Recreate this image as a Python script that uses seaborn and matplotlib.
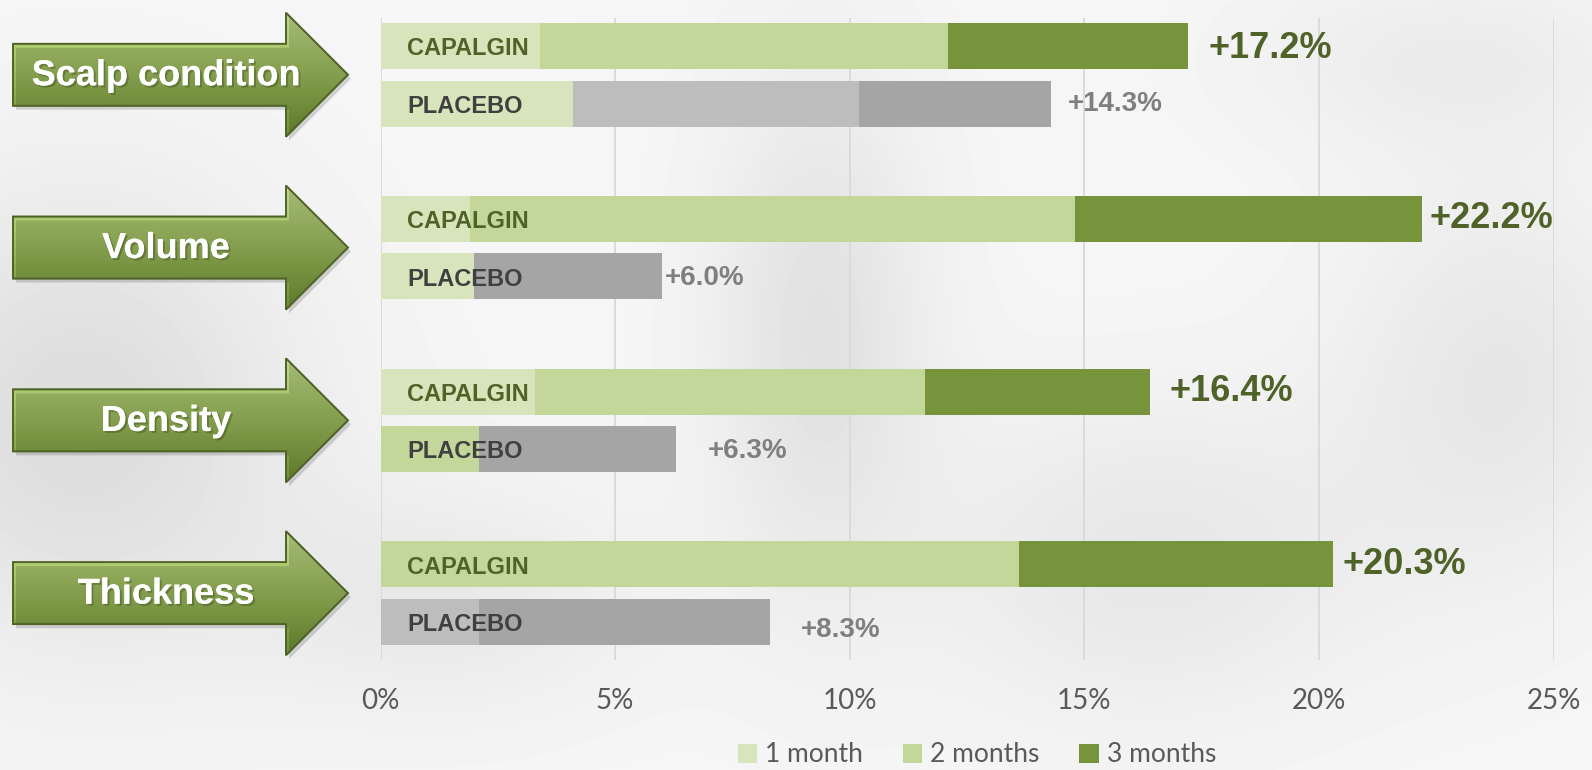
import numpy as np
import pandas as pd
import seaborn as sns
import matplotlib.pyplot as plt
import matplotlib.patheffects as pe
from matplotlib.patches import Polygon, Patch
from matplotlib.colors import LinearSegmentedColormap

# ---- data ----
groups = ['Scalp condition', 'Volume', 'Density', 'Thickness']
arms = ['CAPALGIN', 'PLACEBO']
# cumulative end of each period, one entry per bar (group x arm)
end_1m = [3.4, 4.1, 1.9, 2.0, 3.3, 2.1, 0.0, 2.1]
end_2m = [12.1, 10.2, 14.8, 2.0, 11.6, 2.1, 13.6, 2.1]
end_3m = [17.2, 14.3, 22.2, 6.0, 16.4, 6.3, 20.3, 8.3]
value_labels = ['+17.2%', '+14.3%', '+22.2%', '+6.0%', '+16.4%', '+6.3%', '+20.3%', '+8.3%']
x_ticks = [0, 5, 10, 15, 20, 25]
legend_labels = ['1 month', '2 months', '3 months']

# ---- styles ----
L1, G2, D3 = '#d8e4bc', '#c4d79b', '#77933c'
GR1, GR2 = '#bdbdbd', '#a5a5a5'
col_1m = [L1, L1, L1, L1, L1, G2, L1, GR1]
col_2m = [G2, GR1, G2, GR2, G2, G2, G2, GR1]
col_3m = [D3, GR2, D3, GR2, D3, GR2, D3, GR2]
lab_dx = [15, 12, 5, 2, 14, 23, 6.5, 22]   # points right of bar end
lab_dy = [-2, 0, 0, -1, 0, -1, 0, -6]

sns.set_style('white')
plt.rcParams['font.family'] = ['Liberation Sans', 'DejaVu Sans']

W, H = 1592, 770
fig = plt.figure(figsize=(W / 100, H / 100), dpi=100)

# background: soft faded photo look
bg = fig.add_axes([0, 0, 1, 1], zorder=-2)
yy, xx = np.mgrid[0:H, 0:W]
img = np.full((H, W), 0.965)
for cx, cy, sx, sy, d in [(80, 420, 220, 230, 0.10), (820, 330, 110, 260, 0.08),
                          (1150, 560, 220, 160, 0.06), (1500, 380, 160, 200, 0.06),
                          (450, 600, 200, 120, 0.05), (1450, 60, 200, 90, 0.04)]:
    img -= d * np.exp(-(((xx - cx) / sx) ** 2 + ((yy - cy) / sy) ** 2))
bg.imshow(img, cmap='gray', vmin=0, vmax=1, aspect='auto', extent=[0, W, H, 0])
bg.axis('off')

ax = fig.add_axes([380.5 / W, 1 - 660 / H, 1173 / W, 641.7 / H])
ax.set_facecolor('none')

n = len(end_3m)
pos = [g * 3 + a for g in range(len(groups)) for a in range(len(arms))]
keys = [f'b{i}' for i in range(n)]

for ends, cols in [(end_3m, col_3m), (end_2m, col_2m), (end_1m, col_1m)]:
    df = pd.DataFrame({'end': ends, 'pos': pos, 'bar': keys})
    sns.barplot(data=df, x='end', y='pos', hue='bar', palette=dict(zip(keys, cols)),
                orient='y', native_scale=True, dodge=False, legend=False,
                saturation=1, width=0.8, linewidth=0, errorbar=None, ax=ax)

ax.set_xlim(0, 25)
ax.set_ylim(10.66, -0.48)
ax.set_xticks(x_ticks)
ax.set_xticklabels([f'{t}%' for t in x_ticks], fontfamily='Lato', fontsize=20, color='#595959')
ax.set_yticks([])
ax.tick_params(axis='x', length=0, pad=20)
ax.grid(axis='x', color='#d9d9d9', lw=1.3)
ax.set_axisbelow(True)
ax.set_xlabel('')
ax.set_ylabel('')
sns.despine(ax=ax, left=True, bottom=True)

for i in range(n):
    cap = i % 2 == 0
    ax.annotate(arms[i % 2], xy=(0, pos[i]), xytext=(19, -2), textcoords='offset points',
                va='center', ha='left', fontsize=17, fontweight='bold',
                color='#4f6228' if cap else '#404040')
    ax.annotate(value_labels[i], xy=(end_3m[i], pos[i]), xytext=(lab_dx[i], lab_dy[i]),
                textcoords='offset points', va='center', ha='left',
                fontsize=26 if cap else 20, fontweight='bold',
                color='#4f6228' if cap else '#7f7f7f')

# arrows with group names
ov = fig.add_axes([0, 0, 1, 1], zorder=3)
ov.set_xlim(0, W)
ov.set_ylim(H, 0)
ov.axis('off')
green = LinearSegmentedColormap.from_list('g', ['#c2db8e', '#a9c76b', '#8cad4d', '#6e8e33'])
grad = np.linspace(0, 1, 100).reshape(-1, 1)
fig.canvas.draw()
for g, name in enumerate(groups):
    yc = H - ax.transData.transform((0, g * 3 + 0.5))[1]
    x0, xb, xt, sh, hh = 13, 286, 348, 31, 62
    pts = [(x0, yc - sh), (xb, yc - sh), (xb, yc - hh), (xt, yc), (xb, yc + hh),
           (xb, yc + sh), (x0, yc + sh)]
    shadow = Polygon([(x + 3, y + 4) for x, y in pts], closed=True, fc='#000000',
                     alpha=0.15, ec='none')
    ov.add_patch(shadow)
    poly = Polygon(pts, closed=True, fc='none', ec='#4f6228', lw=1.2)
    ov.add_patch(poly)
    im = ov.imshow(grad, cmap=green, aspect='auto', origin='upper',
                   extent=[x0, xt, yc + hh, yc - hh])
    im.set_clip_path(poly)
    ov.add_patch(Polygon(pts, closed=True, fc='none', ec='#4f6228', lw=1.2))
    ov.text(166, yc + 1, name, ha='center', va='center', fontsize=26,
            fontweight='bold', color='white',
            path_effects=[pe.withSimplePatchShadow(offset=(1.5, -1.5), shadow_rgbFace='#3a4a1a',
                                                   alpha=0.4), pe.Normal()])
ov.set_xlim(0, W)
ov.set_ylim(H, 0)

handles = [Patch(fc=c, ec='none') for c in [L1, G2, D3]]
fig.legend(handles, legend_labels, loc='center', bbox_to_anchor=(977 / W, 1 - 755 / H),
           ncol=3, frameon=False, handlelength=0.75, handleheight=0.75,
           handletextpad=0.3, columnspacing=1.5,
           prop={'family': 'Lato', 'size': 19}, labelcolor='#595959')

fig.savefig('out.png', dpi=100)
